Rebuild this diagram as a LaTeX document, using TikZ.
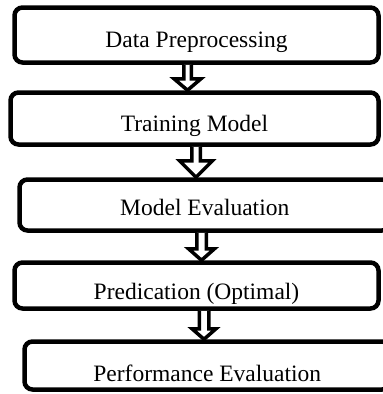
\documentclass[tikz,border=0pt]{standalone}
\usepackage{fontspec}
\setmainfont{Liberation Serif}
\usepackage{tikz}
\usetikzlibrary{calc}

\begin{document}
\begin{tikzpicture}[
  x=1pt, y=1pt,
  box/.style={draw, line width=4.5pt, rounded corners=8pt, fill=white,
    inner sep=0pt, text depth=0pt, font=\fontsize{23.5}{28}\selectfont},
  flow/.style={draw, line width=3.5pt, fill=white, line join=miter}]
    % page with the margins of the reference
    \path[use as bounding box, fill=white] (0,0) rectangle (383,-394);
    % the five stages
    \node[box, minimum width=364, minimum height=55, text height=24.5pt] (b1) at (196.5,-35) {Data Preprocessing};
    \node[box, minimum width=368, minimum height=52, text height=26.5pt] (b2) at (194.5,-118.5) {Training Model};
    \node[box, minimum width=370.5, minimum height=51, text height=20.5pt] (b3) at (204.75,-205) {Model Evaluation};
    \node[box, minimum width=364, minimum height=46, text height=27.5pt] (b4) at (196.5,-285.5) {Predication (Optimal)};
    \node[box, minimum width=365.5, minimum height=48, text height=31.5pt] (b5) at (207.25,-365.5) {Performance Evaluation};
    % hollow block arrows between the stages
    \foreach \from/\to/\cx/\sw/\hw/\hl in {b1/b2/187.5/3.75/13.5/11.5, b2/b3/196/4.25/16.5/16.5,
                                          b3/b4/201.5/4.75/13/11.5, b4/b5/204/4.75/12/10.5}
      \draw[flow] let \p1 = (\from.south), \p2 = (\to.north) in
        ({\cx pt-\sw pt},\y1) -- ({\cx pt-\sw pt},{\y2+\hl pt}) -- ({\cx pt-\hw pt},{\y2+\hl pt})
        -- ({\cx pt},\y2) -- ({\cx pt+\hw pt},{\y2+\hl pt}) -- ({\cx pt+\sw pt},{\y2+\hl pt})
        -- ({\cx pt+\sw pt},\y1);
\end{tikzpicture}
\end{document}
